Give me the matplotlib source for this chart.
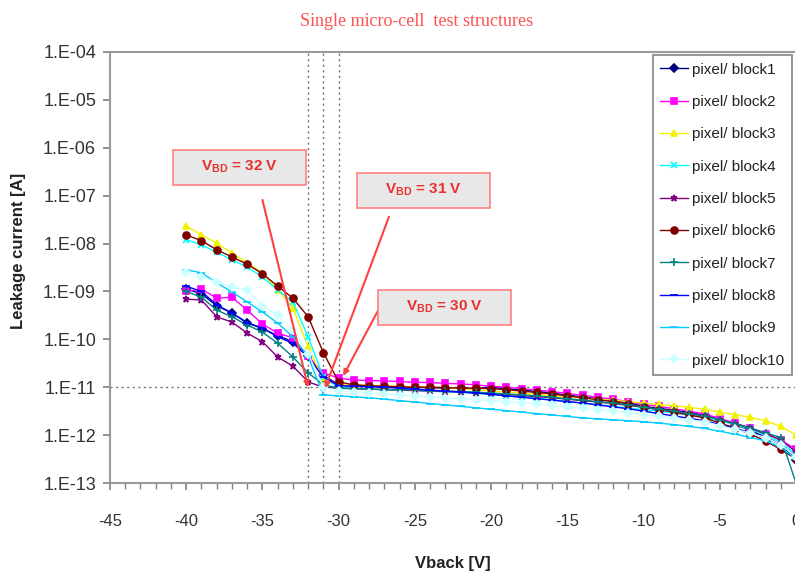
import numpy as np
import matplotlib
matplotlib.use('Agg')
import matplotlib.pyplot as plt
from matplotlib.patches import Rectangle
from matplotlib.ticker import FixedLocator, MultipleLocator, FuncFormatter

plt.rcParams['font.family'] = ['Liberation Sans', 'DejaVu Sans']
plt.rcParams['axes.unicode_minus'] = False

# %% Datos (exponentes log10 de la corriente, Vback de -40 a 0 V)
vback = list(range(-40, 1))

block1 = [-8.95, -9.05, -9.3, -9.45, -9.65, -9.78, -9.92, -10.05, -10.35, -10.75,
          -10.95, -10.98, -10.98, -10.99, -11.0, -11.0, -11.01, -11.02, -11.02, -11.03,
          -11.0, -11.03, -11.06, -11.09, -11.12, -11.17, -11.2, -11.24, -11.28, -11.32,
          -11.4, -11.44, -11.48, -11.53, -11.58, -11.68, -11.78, -11.9, -12.04, -12.2,
          -12.52]
block2 = [-9.0, -8.95, -9.14, -9.12, -9.39, -9.68, -9.87, -9.97, -10.35, -10.7,
          -10.81, -10.85, -10.86, -10.87, -10.88, -10.9, -10.9, -10.92, -10.93, -10.95,
          -10.98, -11.0, -11.03, -11.06, -11.09, -11.13, -11.17, -11.21, -11.25, -11.3,
          -11.36, -11.4, -11.45, -11.5, -11.56, -11.65, -11.75, -11.85, -11.97, -12.1,
          -12.3]
block3 = [-7.63, -7.82, -7.99, -8.2, -8.4, -8.61, -8.97, -9.34, -10.16, -10.85,
          -10.95, -10.95, -10.96, -10.97, -10.98, -10.99, -11.0, -11.01, -11.03, -11.05,
          -11.08, -11.1, -11.12, -11.15, -11.18, -11.2, -11.22, -11.25, -11.27, -11.3,
          -11.33, -11.36, -11.39, -11.42, -11.46, -11.52, -11.57, -11.63, -11.7, -11.82,
          -12.0]
block4 = [-7.92, -8.03, -8.18, -8.34, -8.49, -8.7, -8.97, -9.22, -9.95, -10.79,
          -11.0, -11.02, -11.04, -11.05, -11.06, -11.07, -11.08, -11.1, -11.11, -11.13,
          -11.15, -11.18, -11.2, -11.23, -11.26, -11.3, -11.33, -11.36, -11.4, -11.43,
          -11.47, -11.5, -11.54, -11.58, -11.63, -11.7, -11.78, -11.88, -12.0, -12.15,
          -12.4]
block5 = [-9.16, -9.18, -9.53, -9.64, -9.87, -10.05, -10.37, -10.56, -10.89, -11.0,
          -11.02, -11.03, -11.04, -11.05, -11.06, -11.07, -11.08, -11.09, -11.1, -11.12,
          -11.13, -11.15, -11.17, -11.2, -11.22, -11.25, -11.28, -11.31, -11.34, -11.38,
          -11.42, -11.46, -11.5, -11.55, -11.6, -11.68, -11.76, -11.86, -11.97, -12.1,
          -12.35]
block6 = [-7.82, -7.94, -8.13, -8.28, -8.43, -8.63, -8.89, -9.14, -9.53, -10.28,
          -10.89, -10.95, -10.97, -10.98, -10.99, -11.0, -11.0, -11.01, -11.02, -11.02,
          -11.03, -11.05, -11.08, -11.11, -11.14, -11.18, -11.22, -11.26, -11.3, -11.35,
          -11.42, -11.47, -11.52, -11.58, -11.64, -11.75, -11.85, -11.98, -12.12, -12.3,
          -12.5]
block7 = [-9.0, -9.12, -9.39, -9.53, -9.7, -9.85, -10.08, -10.37, -10.7, -10.95,
          -11.02, -11.03, -11.04, -11.05, -11.05, -11.06, -11.07, -11.08, -11.09, -11.1,
          -11.12, -11.14, -11.16, -11.18, -11.21, -11.24, -11.27, -11.3, -11.33, -11.37,
          -11.42, -11.46, -11.5, -11.55, -11.6, -11.68, -11.76, -11.85, -11.95, -12.05,
          -13.0]
block8 = [-8.89, -9.0, -9.28, -9.45, -9.66, -9.76, -9.95, -10.08, -10.37, -10.79,
          -10.97, -10.98, -10.99, -11.0, -11.02, -11.04, -11.06, -11.08, -11.1, -11.12,
          -11.15, -11.18, -11.21, -11.24, -11.27, -11.3, -11.33, -11.37, -11.41, -11.45,
          -11.5, -11.55, -11.6, -11.65, -11.7, -11.78, -11.86, -11.95, -12.05, -12.2,
          -12.45]
block9 = [-8.55, -8.61, -8.82, -9.01, -9.22, -9.43, -9.66, -9.95, -10.37, -11.16,
          -11.18, -11.2, -11.22, -11.25, -11.28, -11.31, -11.34, -11.37, -11.4, -11.43,
          -11.46, -11.49, -11.52, -11.55, -11.58, -11.61, -11.64, -11.66, -11.68, -11.7,
          -11.72, -11.75, -11.78, -11.82, -11.86, -11.92, -11.98, -12.05, -12.12, -12.25,
          -12.5]
block10 = [-8.6, -8.7, -8.8, -8.9, -8.97, -9.3, -9.5, -9.8, -10.3, -11.0,
           -11.08, -11.1, -11.12, -11.14, -11.16, -11.18, -11.2, -11.22, -11.24, -11.26,
           -11.28, -11.3, -11.32, -11.35, -11.38, -11.41, -11.44, -11.47, -11.5, -11.53,
           -11.57, -11.6, -11.64, -11.68, -11.72, -11.8, -11.88, -11.96, -12.05, -12.2,
           -12.45]

series = [block1, block2, block3, block4, block5, block6, block7, block8, block9, block10]
labels = ['pixel/ block%d' % (i + 1) for i in range(10)]
colores = ['#000080', '#FF00FF', '#F2F200', '#00FFFF', '#800080',
           '#800000', '#008080', '#0000FF', '#00CCFF', '#CCFFFF']
marcadores = ['D', 's', '^', 'x', '*', 'o', '+', '_', '_', 'D']
tamanos = [4, 5, 5, 5, 5, 5, 6, 6, 6, 4]

v_bd = [-32, -31, -30]
v_bd_textos = [r'V$_{\mathregular{BD}}$ = 32 V', r'V$_{\mathregular{BD}}$ = 31 V',
               r'V$_{\mathregular{BD}}$ = 30 V']
ytick_vals = [1e-4, 1e-5, 1e-6, 1e-7, 1e-8, 1e-9, 1e-10, 1e-11, 1e-12, 1e-13]

# %% Grafico
fig = plt.figure(figsize=(7.95, 5.77), dpi=100)
ax = fig.add_axes([110 / 795, 94 / 577, 686 / 795, 431 / 577])

for s, lab, c, m, ms in zip(series, labels, colores, marcadores, tamanos):
    ax.plot(vback, 10.0 ** np.array(s), '-', color=c, marker=m, markersize=ms,
            markeredgewidth=1.2, linewidth=1.0, label=lab)

ax.set_yscale('log')
ax.set_ylim(1e-13, 1e-4)
ax.set_xlim(-45, 0)

# lineas punteadas de referencia
for v in v_bd:
    ax.axvline(v, color='#707070', linestyle=(0, (1.5, 2.5)), linewidth=1.0, zorder=0)
ax.axhline(1e-11, color='#707070', linestyle=(0, (1.5, 2.5)), linewidth=1.0, zorder=0)

ax.yaxis.set_major_locator(FixedLocator(ytick_vals))
ax.yaxis.set_minor_locator(FixedLocator([]))
ax.yaxis.set_major_formatter(FuncFormatter(lambda y, p: '1.E%+03d' % int(round(np.log10(y)))))
ax.xaxis.set_major_locator(MultipleLocator(5))
ax.xaxis.set_minor_locator(MultipleLocator(1))

ax.tick_params(axis='y', which='major', direction='out', length=5, width=1.2,
               color='#808080', labelsize=13, labelcolor='#333333', pad=5)
ax.tick_params(axis='x', which='major', direction='out', length=5, width=1.2,
               color='#808080', labelsize=12, labelcolor='#333333', pad=17)
ax.tick_params(axis='x', which='minor', direction='out', length=4, width=1.0, color='#808080')

for lado in ['left', 'bottom', 'top']:
    ax.spines[lado].set_color('#9a9a9a')
    ax.spines[lado].set_linewidth(1.5)
ax.spines['right'].set_visible(False)

ax.set_xlabel('Vback [V]', fontsize=12, fontweight='bold', color='#222222')
ax.set_ylabel('Leakage current [A]', fontsize=12, fontweight='bold', color='#222222')
ax.xaxis.set_label_coords(0.5, -0.169)
ax.yaxis.set_label_coords(-0.1226, 0.538)

leg = ax.legend(loc='upper right', bbox_to_anchor=(682 / 686, 428 / 431), fontsize=11,
                frameon=True, fancybox=False, edgecolor='#808080', labelspacing=1.2,
                handlelength=1.8, handletextpad=0.3, borderpad=0.5, borderaxespad=0)
leg.get_frame().set_linewidth(1.5)
for t in leg.get_texts():
    t.set_color('#222222')

fig.text(417 / 795, 1 - 22 / 577, 'Single micro-cell  test structures', color='#FF5050',
         fontsize=13, family=['Liberation Serif', 'DejaVu Serif'], ha='center', va='center')

# %% Anotaciones V_BD
cajas = [(173, 150), (357, 173), (378, 290)]   # esquina sup. izq. en pixeles
inicio = [(-35.0, 10 ** -7.09), (-26.7, 10 ** -7.44), (-27.4, 10 ** -9.39)]
fin = [(-32.0, 10 ** -11.0), (-30.9, 10 ** -11.02), (-29.7, 10 ** -10.76)]
for (px, py), txt in zip(cajas, v_bd_textos):
    fig.add_artist(Rectangle((px / 795, 1 - (py + 35) / 577), 133 / 795, 35 / 577,
                             transform=fig.transFigure, facecolor='#E8E8E8',
                             edgecolor='#FF8080', linewidth=1.2))
    fig.text((px + 66) / 795, 1 - (py + 17) / 577, txt, color='#E83030', fontsize=11,
             fontweight='bold', ha='center', va='center')
for a, b in zip(inicio, fin):
    ax.annotate('', xy=b, xytext=a,
                arrowprops=dict(arrowstyle='-|>', color='#FF4040', lw=1.5,
                                mutation_scale=8, shrinkA=0, shrinkB=0))

fig.savefig('out.png', dpi=100)
